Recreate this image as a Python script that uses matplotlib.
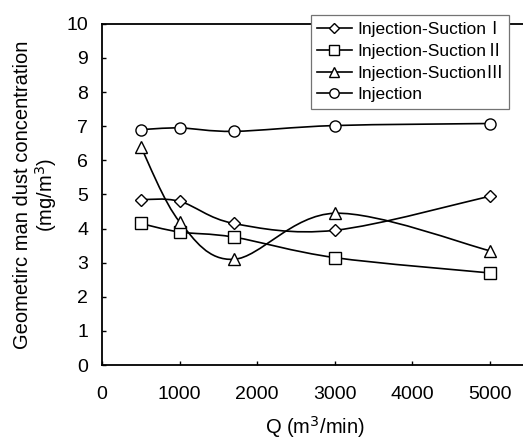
import matplotlib
matplotlib.use("Agg")
import matplotlib.pyplot as plt
from matplotlib.path import Path
from matplotlib.patches import PathPatch
import numpy as np

plt.rcParams['font.family'] = ['Liberation Sans', 'Noto Sans CJK SC', 'DejaVu Sans']

# data
q = [500, 1000, 1700, 3000, 5000]
suction_1 = [4.85, 4.8, 4.15, 3.95, 4.95]
suction_2 = [4.15, 3.9, 3.75, 3.15, 2.7]
suction_3 = [6.4, 4.2, 3.1, 4.45, 3.35]
injection = [6.9, 6.95, 6.85, 7.02, 7.08]

labels = ["Injection-SuctionⅠ", "Injection-SuctionⅡ", "Injection-SuctionⅢ", "Injection"]
markers = ["D", "s", "^", "o"]
msizes = [6.5, 8, 8, 8]


def smooth_path(xs, ys):
    # Excel style smoothed line: cubic bezier segments through the points
    pts = np.column_stack([xs, ys]).astype(float)
    ext = np.vstack([pts[0], pts, pts[-1]])
    verts = [pts[0]]
    codes = [Path.MOVETO]
    for i in range(len(pts) - 1):
        p0, p1, p2, p3 = ext[i], ext[i + 1], ext[i + 2], ext[i + 3]
        c1 = p1 + (p2 - p0) / 6.0
        c2 = p2 - (p3 - p1) / 6.0
        verts += [c1, c2, p2]
        codes += [Path.CURVE4] * 3
    return Path(verts, codes)


fig = plt.figure(figsize=(5.23, 4.42), dpi=100)
ax = fig.add_axes([0.195, 0.174, 0.816, 0.772])

for ys, lab, m, ms in zip([suction_1, suction_2, suction_3, injection], labels, markers, msizes):
    ax.add_patch(PathPatch(smooth_path(q, ys), facecolor='none', edgecolor='black', lw=1.2, zorder=2))
    ax.plot(q, ys, linestyle='none', marker=m, markersize=ms, markerfacecolor='white',
            markeredgecolor='black', markeredgewidth=1.0, zorder=3)
    ax.plot([], [], color='black', lw=1.2, marker=m, markersize=ms * 0.85,
            markerfacecolor='white', markeredgecolor='black', markeredgewidth=1.0, label=lab)

ax.set_xlim(0, 5500)
ax.set_ylim(0, 10)
ax.set_xticks([0, 1000, 2000, 3000, 4000, 5000])
ax.set_yticks(range(0, 11))
ax.tick_params(direction='in', length=3, width=1, labelsize=14)
ax.tick_params(axis='y', pad=10)
ax.tick_params(axis='x', pad=15)
ax.spines['right'].set_visible(False)
for s in ['left', 'bottom', 'top']:
    ax.spines[s].set_linewidth(1.3)

ax.set_xlabel("Q (m$^3$/min)", fontsize=14.5, labelpad=8)
ax.set_ylabel("Geometirc man dust concentration\n(mg/m$^3$)", fontsize=14.5, labelpad=5,
              linespacing=1.1)

leg = ax.legend(loc='upper left', bbox_to_anchor=(311 / 523, 1 - 15 / 442), bbox_transform=fig.transFigure,
                fontsize=12.5, frameon=True, fancybox=False, edgecolor='0.45', framealpha=1,
                handlelength=2.0, handletextpad=0.3, labelspacing=0.35, borderpad=0.35,
                borderaxespad=0)
leg.get_frame().set_linewidth(0.9)

fig.savefig("out.png", dpi=100)
